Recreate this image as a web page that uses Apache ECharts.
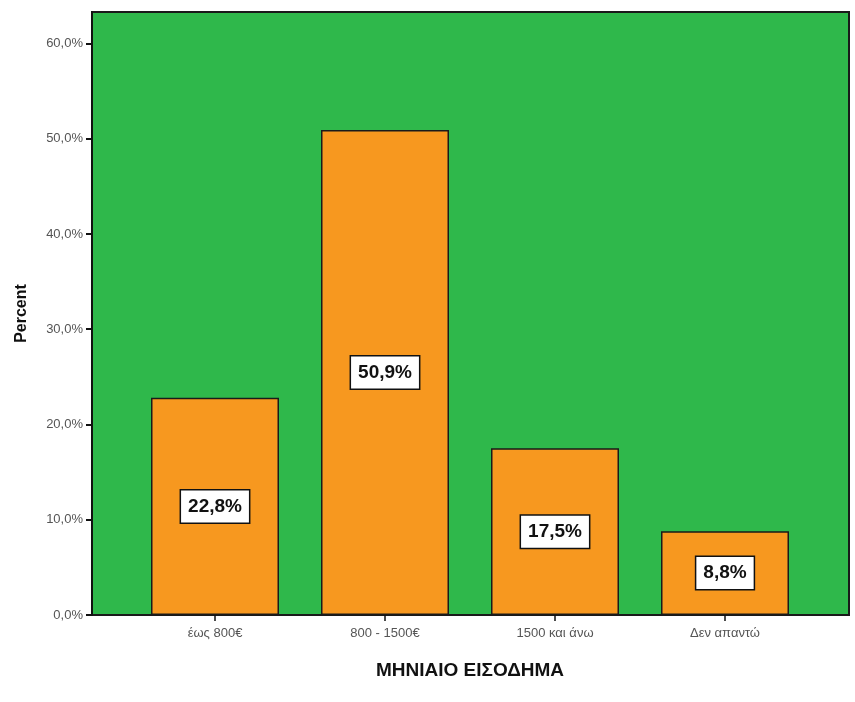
<!DOCTYPE html>
<html><head><meta charset="utf-8">
<script src="https://cdn.jsdelivr.net/npm/echarts@6/dist/echarts.min.js"></script>
<style>html,body{margin:0;padding:0;background:#fff}#c{width:855px;height:702px}</style>
</head><body><div id="c"></div>
<script>
const categories = ['έως 800€', '800 - 1500€', '1500 και άνω', 'Δεν απαντώ'];
const percents = [22.8, 50.9, 17.5, 8.8];
const yTicks = [0, 10, 20, 30, 40, 50, 60];
const xTitle = 'ΜΗΝΙΑΙΟ ΕΙΣΟΔΗΜΑ';
const yTitle = 'Percent';

const font = 'Liberation Sans, Arial, sans-serif';
const chart = echarts.init(document.getElementById('c'));
const fmt = v => v.toFixed(1).replace('.', ',') + '%';
chart.setOption({
  animation: false,
  grid: [
    {left: 92, right: 6, top: 12, bottom: 87, show: true, backgroundColor: '#2fb84b', borderColor: '#1a1a1a', borderWidth: 2},
    {left: 130, width: 680, top: 12, bottom: 87}
  ],
  xAxis: [
    {gridIndex: 0, type: 'category', data: categories, show: false},
    {gridIndex: 1, type: 'category', data: categories,
     axisLine: {show: false},
     axisTick: {show: true, alignWithLabel: true, length: 6, lineStyle: {color: '#111', width: 1.5}},
     axisLabel: {color: '#555', fontFamily: font, fontSize: 13, margin: 12},
     name: xTitle, nameLocation: 'middle', nameGap: 46,
     nameTextStyle: {color: '#111', fontFamily: font, fontSize: 19, fontWeight: 'bold'}}
  ],
  yAxis: [
    {gridIndex: 0, type: 'value', min: 0, max: 63.3, interval: 10,
     axisLine: {show: true, lineStyle: {color: '#111', width: 2}},
     axisTick: {show: true, length: 6, customValues: yTicks, lineStyle: {color: '#111', width: 2}},
     axisLabel: {customValues: yTicks, formatter: fmt, color: '#555', fontFamily: font, fontSize: 13, margin: 9},
     splitLine: {show: false},
     name: yTitle, nameLocation: 'middle', nameGap: 62, nameRotate: 90,
     nameTextStyle: {color: '#111', fontFamily: font, fontSize: 16, fontWeight: 'bold'}},
    {gridIndex: 1, type: 'value', min: 0, max: 63.3, show: false}
  ],
  series: [{
    type: 'bar', xAxisIndex: 1, yAxisIndex: 1, data: percents, barWidth: 128,
    itemStyle: {color: '#f7981f', borderColor: '#1a1a1a', borderWidth: 1.5},
    label: {show: true, position: 'inside', formatter: p => fmt(p.value),
      color: '#111', fontFamily: font, fontSize: 19, fontWeight: 'bold',
      backgroundColor: '#fff', borderColor: '#111', borderWidth: 1.5, padding: [7, 7, 6, 7]}
  }]
});
</script></body></html>
